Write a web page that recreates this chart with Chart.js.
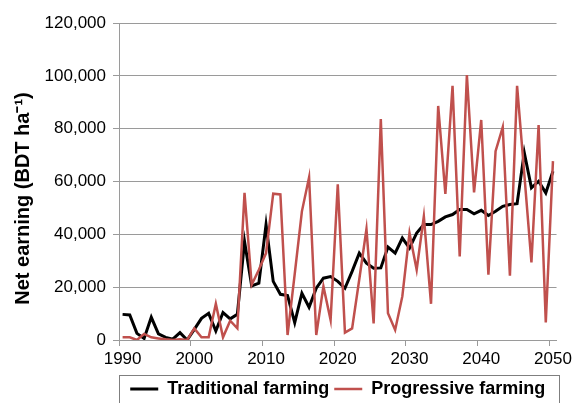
<!DOCTYPE html>
<html>
<head>
<meta charset="utf-8">
<script src="https://cdn.jsdelivr.net/npm/chart.js@4.4.1/dist/chart.umd.min.js"></script>
<style>
  html, body { margin: 0; padding: 0; background: #fff; }
  #wrap { width: 575px; height: 403px; position: relative; }
</style>
</head>
<body>
<div id="wrap"><canvas id="earnChart"></canvas></div>
<script>
// Years on the category axis
const years = [
  1990, 1991, 1992, 1993, 1994, 1995, 1996, 1997, 1998, 1999,
  2000, 2001, 2002, 2003, 2004, 2005, 2006, 2007, 2008, 2009,
  2010, 2011, 2012, 2013, 2014, 2015, 2016, 2017, 2018, 2019,
  2020, 2021, 2022, 2023, 2024, 2025, 2026, 2027, 2028, 2029,
  2030, 2031, 2032, 2033, 2034, 2035, 2036, 2037, 2038, 2039,
  2040, 2041, 2042, 2043, 2044, 2045, 2046, 2047, 2048, 2049,
  2050
];

// Net earning, BDT per ha
const traditional = [
  9700, 9500, 2500, 600, 8600, 2300, 1000, 300, 2800, 0,
  4000, 8200, 10100, 3400, 10400, 8000, 9700, 37300, 20500, 21500,
  43700, 22200, 17300, 16800, 6600, 17700, 12400, 19600, 23400, 24000,
  22200, 19600, 26000, 32900, 29100, 27200, 27300, 35200, 32900, 38600,
  34800, 40500, 43700, 43700, 44900, 46600, 47500, 49400, 49400, 47800,
  49100, 47100, 48700, 50600, 51300, 51600, 70900, 57600, 60100, 55700,
  63900
];

const progressive = [
  1000, 1000, 0, 2300, 1000, 600, 250, 0, 250, 0,
  4400, 1000, 1000, 13700, 1000, 7300, 4400, 55700, 20900, 26600,
  32900, 55400, 55100, 1900, 25000, 48700, 61600, 1900, 20300, 7600,
  58900, 2800, 4400, 23000, 42000, 6300, 83600, 10100, 3800, 16500,
  40500, 26600, 46800, 13700, 88600, 55300, 96200, 31600, 100300, 55900,
  83300, 24700, 71500, 80600, 24300, 96200, 63000, 29400, 81400, 6600,
  67700
];

const yTicks = [0, 20000, 40000, 60000, 80000, 100000, 120000];

const gridGray = "#9a9a9a";
const redLine = "#C0504D";
const fontFamily = "'Liberation Sans', Arial, sans-serif";

Chart.defaults.font.family = fontFamily;
Chart.defaults.color = "#000";

// box round the legend + the y title, centred on the whole chart like the spreadsheet does
const frameAndTitle = {
  id: "frameAndTitle",
  afterDraw(chart) {
    const ctx = chart.ctx;
    const lg = chart.legend;
    const area = chart.chartArea;
    ctx.save();
    if (lg) {
      ctx.strokeStyle = "#7f7f7f";
      ctx.lineWidth = 1;
      ctx.strokeRect(Math.round(area.left) + 0.5, Math.round(lg.top) + 0.5,
        Math.round(area.right - area.left) + 2, 60);
    }
    ctx.translate(23, chart.height / 2 - 3);
    ctx.rotate(-Math.PI / 2);
    ctx.fillStyle = "#000";
    ctx.textAlign = "center";
    ctx.textBaseline = "middle";
    ctx.font = "bold 20px " + fontFamily;
    ctx.fillText("Net earning (BDT ha\u207B\u00B9)", 0, 0);
    ctx.restore();
  },
};

new Chart(document.getElementById("earnChart"), {
  type: "line",
  data: {
    labels: years,
    datasets: [
      {
        label: "Traditional farming",
        data: traditional,
        borderColor: "#000",
        backgroundColor: "#000",
        borderWidth: 3,
        pointRadius: 0,
        tension: 0,
        order: 1,
      },
      {
        label: "Progressive farming",
        data: progressive,
        borderColor: redLine,
        backgroundColor: redLine,
        borderWidth: 2.5,
        pointRadius: 0,
        tension: 0,
        order: 0,
      },
    ],
  },
  options: {
    responsive: true,
    maintainAspectRatio: false,
    animation: false,
    layout: { padding: { left: 0, right: 17, top: 23, bottom: -5 } },
    plugins: {
      tooltip: { enabled: false },
      legend: {
        position: "bottom",
        fullSize: false,
        labels: {
          usePointStyle: true,
          pointStyle: "line",
          pointStyleWidth: 28,
          padding: 5,
          color: "#000",
          font: { size: 18, weight: "bold" },
          sort: (a, b) => a.datasetIndex - b.datasetIndex,
        },
      },
    },
    scales: {
      x: {
        type: "category",
        offset: true,
        afterFit(scale) { scale.height = 35; },
        grid: {
          offset: true,
          drawOnChartArea: false,
          tickLength: 6,
          color: (ctx) => (ctx.index !== undefined && ctx.index % 10 === 0 ? gridGray : "rgba(0,0,0,0)"),
        },
        border: { color: gridGray, width: 1 },
        ticks: {
          autoSkip: false,
          maxRotation: 0,
          padding: 3,
          font: { size: 17 },
          callback: (val, i) => (years[i] % 10 === 0 ? String(years[i]) : ""),
        },
      },
      y: {
        min: 0,
        max: 120000,
        afterFit(scale) { scale.width = 119; },
        afterBuildTicks(scale) { scale.ticks = yTicks.map((v) => ({ value: v })); },
        grid: { color: gridGray, tickLength: 6 },
        border: { color: gridGray, width: 1 },
        ticks: {
          padding: 7,
          font: { size: 17 },
          callback: (v) => Number(v).toLocaleString("en-US"),
        },
      },
    },
  },
  plugins: [frameAndTitle],
});
</script>
</body>
</html>
